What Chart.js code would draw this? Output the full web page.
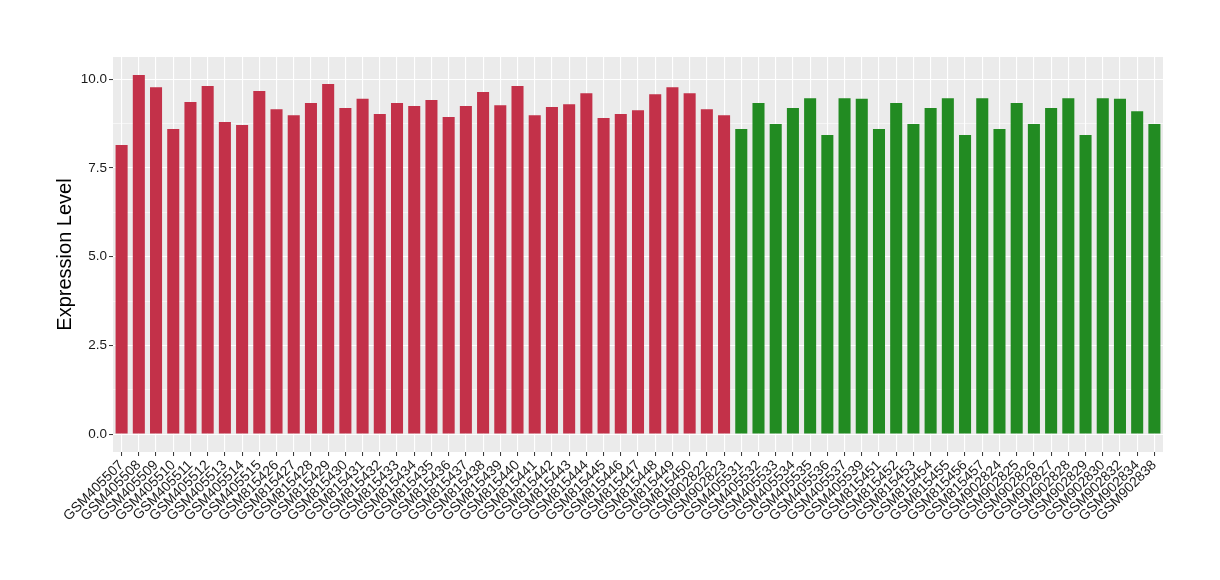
<!DOCTYPE html>
<html>
<head>
<meta charset="utf-8">
<script src="https://cdn.jsdelivr.net/npm/chart.js@4.4.0/dist/chart.umd.min.js"></script>
<style>
  html, body { margin: 0; padding: 0; background: #ffffff; }
  #wrap { width: 1220px; height: 580px; position: relative; }
</style>
</head>
<body>
<div id="wrap"><canvas id="c" width="1220" height="580"></canvas></div>
<script>
const categories = [
  "GSM405507","GSM405508","GSM405509","GSM405510","GSM405511","GSM405512","GSM405513","GSM405514","GSM405515",
  "GSM815426","GSM815427","GSM815428","GSM815429","GSM815430","GSM815431","GSM815432","GSM815433","GSM815434",
  "GSM815435","GSM815436","GSM815437","GSM815438","GSM815439","GSM815440","GSM815441","GSM815442","GSM815443",
  "GSM815444","GSM815445","GSM815446","GSM815447","GSM815448","GSM815449","GSM815450","GSM902822","GSM902823",
  "GSM405531","GSM405532","GSM405533","GSM405534","GSM405535","GSM405536","GSM405537","GSM405539",
  "GSM815451","GSM815452","GSM815453","GSM815454","GSM815455","GSM815456","GSM815457",
  "GSM902824","GSM902825","GSM902826","GSM902827","GSM902828","GSM902829","GSM902830",
  "GSM902832","GSM902834","GSM902838"
];
const values = [
  8.15,10.12,9.78,8.60,9.36,9.81,8.80,8.71,9.67,
  9.16,8.99,9.33,9.87,9.19,9.45,9.02,9.33,9.25,
  9.42,8.94,9.25,9.64,9.27,9.81,8.99,9.22,9.30,
  9.61,8.91,9.02,9.13,9.58,9.78,9.61,9.16,8.99,
  8.60,9.33,8.74,9.19,9.47,8.43,9.47,9.45,
  8.60,9.33,8.74,9.19,9.47,8.43,9.47,
  8.60,9.33,8.74,9.19,9.47,8.43,9.47,
  9.45,9.10,8.74
];
const groups = [
  "A","A","A","A","A","A","A","A","A",
  "A","A","A","A","A","A","A","A","A",
  "A","A","A","A","A","A","A","A","A",
  "A","A","A","A","A","A","A","A","A",
  "B","B","B","B","B","B","B","B",
  "B","B","B","B","B","B","B",
  "B","B","B","B","B","B","B",
  "B","B","B"
];
const groupColors = { A: "#C33149", B: "#228B22" };
const yMajorTicks = [0, 2.5, 5, 7.5, 10];
const yMajorLabels = ["0.0", "2.5", "5.0", "7.5", "10.0"];
const yMinorTicks = [1.25, 3.75, 6.25, 8.75];
const yTitle = "Expression Level";

const panelBg = {
  id: "panelBg",
  beforeDraw(chart) {
    const { ctx, chartArea: a } = chart;
    ctx.save();
    ctx.fillStyle = "#EBEBEB";
    ctx.fillRect(a.left, a.top, a.right - a.left, a.bottom - a.top);
    ctx.restore();
  }
};

const allYTicks = yMajorTicks.concat(yMinorTicks).sort((p, q) => p - q);
const isMajor = v => yMajorTicks.some(m => Math.abs(m - v) < 1e-9);

new Chart(document.getElementById("c"), {
  type: "bar",
  data: {
    labels: categories,
    datasets: [{
      data: values,
      backgroundColor: groups.map(g => groupColors[g]),
      borderWidth: 0,
      barPercentage: 0.7,
      categoryPercentage: 1.0
    }]
  },
  options: {
    responsive: false,
    animation: false,
    devicePixelRatio: 1,
    layout: { padding: { top: 57, right: 57, left: 0, bottom: 0 } },
    plugins: { legend: { display: false }, tooltip: { enabled: false } },
    scales: {
      x: {
        type: "category",
        offset: true,
        border: { display: false },
        grid: {
          offset: false,
          color: "#FFFFFF",
          lineWidth: 1.1,
          drawTicks: true,
          tickLength: 4,
          tickColor: "#333333",
          tickWidth: 1
        },
        ticks: {
          autoSkip: false,
          minRotation: 45,
          maxRotation: 45,
          padding: 1,
          color: "#1a1a1a",
          font: { family: "'Liberation Sans', Arial, sans-serif", size: 14 }
        },
        afterFit(scale) { scale.height = 128; }
      },
      y: {
        min: -0.506,
        max: 10.63,
        border: { display: false },
        afterBuildTicks(scale) {
          scale.ticks = allYTicks.map(v => ({ value: v }));
        },
        grid: {
          color: "#FFFFFF",
          lineWidth: ctx => (ctx.tick && isMajor(ctx.tick.value)) ? 1.1 : 0.55,
          drawTicks: true,
          tickLength: 4,
          tickColor: ctx => (ctx.tick && isMajor(ctx.tick.value)) ? "#333333" : "rgba(0,0,0,0)",
          tickWidth: 1
        },
        ticks: {
          padding: 2,
          color: "#1a1a1a",
          font: { family: "'Liberation Sans', Arial, sans-serif", size: 13.5 },
          callback: function (v) {
            const i = yMajorTicks.findIndex(m => Math.abs(m - v) < 1e-9);
            return i >= 0 ? yMajorLabels[i] : "";
          }
        },
        title: {
          display: true,
          text: yTitle,
          color: "#000000",
          font: { family: "'Liberation Sans', Arial, sans-serif", size: 20 },
          padding: { top: 53, bottom: 0 }
        },
        afterFit(scale) { scale.width = 113; }
      }
    }
  },
  plugins: [panelBg]
});
</script>
</body>
</html>
